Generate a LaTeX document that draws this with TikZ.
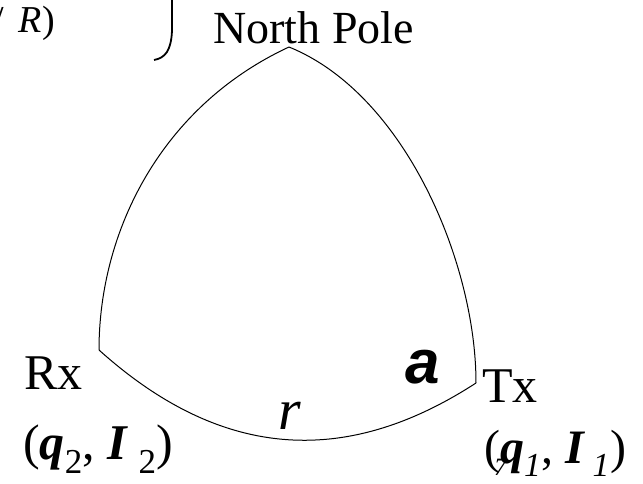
\documentclass[tikz,border=0pt]{standalone}
\usepackage{fontspec}
\setmainfont{Liberation Serif}
\newfontfamily\alphafont{Liberation Sans}
\usetikzlibrary{positioning}

\begin{document}
\begin{tikzpicture}[x=1pt,y=1pt,
    lbl/.style={inner sep=0pt,anchor=base west},
    side/.style={line width=1pt}]
        \useasboundingbox (0,0) rectangle (643,483);

        % Corners of the spherical triangle
        \coordinate (pole) at (289,436);
        \coordinate (rx) at (99,133);
        \coordinate (tx) at (476,100);

        % Sides
        \draw[side] (pole) .. controls (162,377) and (99,253) .. (rx);
        \draw[side] (pole) .. controls (405,389) and (476,220) .. (tx);
        \draw[side] (rx) .. controls (218,26) and (342,13) .. (tx);

        % Pieces cut off at the top
        \node[lbl,font=\fontsize{38}{38}\selectfont] (ratio) at (-7,450) {/\hspace{0.4em}\textit{R})};
        \draw[line width=1.8pt] (172,483) -- (172,452) .. controls (171,432) and (165,425) .. (154,423);

        % Labels
        \node[lbl,font=\fontsize{46}{46}\selectfont] (northlbl) at (213,439) {North Pole};
        \node[lbl,font=\fontsize{50}{50}\selectfont] (rxlbl) at (24,94) {Rx};
        \node[lbl,font=\fontsize{50}{50}\selectfont] (rxpos) at (23,24)
            {(\textbf{\textit{q}}\textsubscript{2}, \textbf{\textit{I}}\hspace{0.2em}\textsubscript{2})};
        \node[lbl,font=\fontsize{50}{50}\selectfont] (txlbl) at (482,81) {Tx};
        \node[lbl,font=\fontsize{48}{48}\selectfont] (txpos) at (484,20)
            {(\textbf{\textit{q}}\textsubscript{\textit{1}}, \textbf{\textit{I}}\hspace{0.15em}\textsubscript{\textit{1}})};
        \node[lbl,font=\fontsize{25}{25}\selectfont] (stray) at (494,8) {\textit{7}};
        \node[lbl,font=\fontsize{62}{62}\selectfont\alphafont\bfseries\itshape] (alpha) at (405,100) {a};
        \node[lbl,font=\fontsize{58}{58}\selectfont\itshape] (dist) at (278,54) {r};
\end{tikzpicture}
\end{document}
